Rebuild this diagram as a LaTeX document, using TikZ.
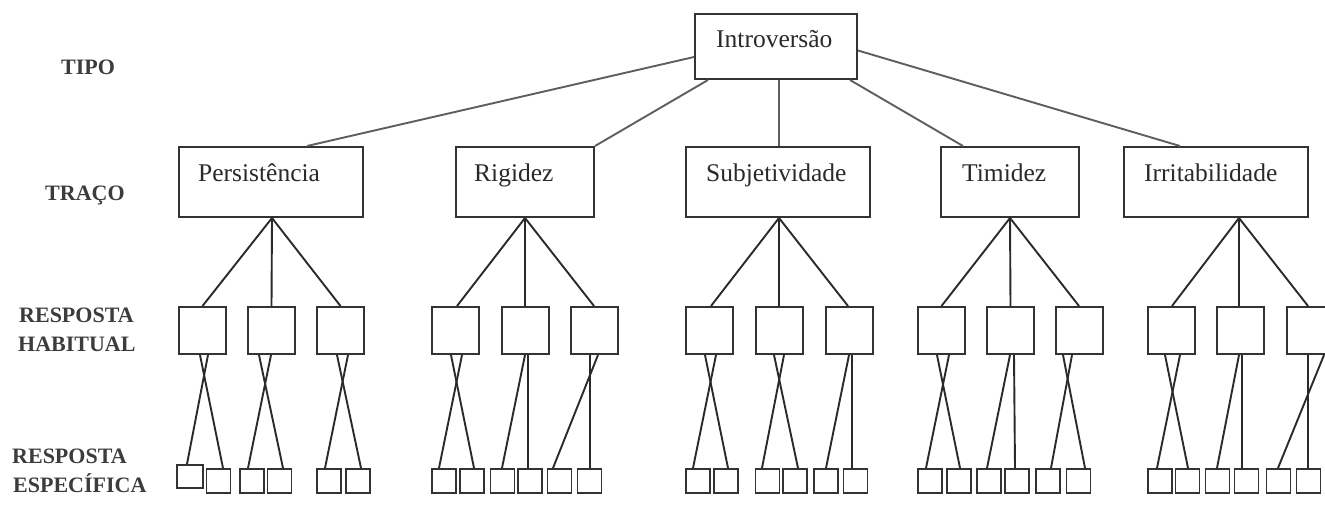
\documentclass[tikz,border=0pt]{standalone}
\usepackage{fontspec}
\setmainfont{Liberation Serif}
\definecolor{boxc}{HTML}{333333}
\definecolor{topc}{HTML}{5E5E5E}
\definecolor{lblc}{HTML}{3C3C3C}
\definecolor{txtc}{HTML}{2A2A2A}
\newcommand\lkHS[4]{\draw[conn] ([xshift=#2pt]#1.south) -- ([xshift=#4pt]#3.north);}
\begin{document}
\begin{tikzpicture}[x=1pt,y=-1pt,
  tbox/.style={draw=boxc, line width=2pt, inner sep=0pt, minimum height=70pt},
  hbox/.style={draw=boxc, line width=2pt, inner sep=0pt, minimum width=47pt, minimum height=47pt},
  sbox/.style={draw=boxc, line width=1.9pt, inner sep=0pt, minimum width=24pt, minimum height=24pt},
  txt/.style={inner sep=0pt, anchor=base west, text=txtc, font=\fontsize{25.5}{30}\selectfont},
  lbl/.style={inner sep=0pt, anchor=base west, text=lblc, font=\fontsize{22}{26}\selectfont\bfseries},
  conn/.style={draw=txtc, line width=1.9pt},
  topconn/.style={draw=topc, line width=1.9pt}]
\useasboundingbox (0,0) rectangle (1325,516);
\fill[white] (0,0) rectangle (1325,516);

% level labels
\node[lbl] (lTipo) at (61,75) {TIPO};
\node[lbl] (lTraco) at (45,200) {TRAÇO};
\node[lbl] (lRH1) at (19,322) {RESPOSTA};
\node[lbl] (lRH2) at (18,351) {HABITUAL};
\node[lbl] (lRE1) at (12,463) {RESPOSTA};
\node[lbl] (lRE2) at (13,492) {ESPECÍFICA};

% type
\node[tbox, minimum width=162pt, minimum height=65pt] (Intro) at (776,46.5) {};
\node[txt] (IntroTx) at (716,48) {Introversão};

% traits
\node[tbox, minimum width=184pt] (tP) at (271,182) {};
\node[txt] (tPx) at (198,182) {Persistência};
\node[tbox, minimum width=138pt] (tR) at (525,182) {};
\node[txt] (tRx) at (474,182) {Rigidez};
\node[tbox, minimum width=184pt] (tS) at (778,182) {};
\node[txt] (tSx) at (706,182) {Subjetividade};
\node[tbox, minimum width=138pt] (tT) at (1010,182) {};
\node[txt] (tTx) at (962,182) {Timidez};
\node[tbox, minimum width=184pt] (tI) at (1216,182) {};
\node[txt] (tIx) at (1144,182) {Irritabilidade};

% type -> traits
\draw[topconn] ([yshift=-10.5pt]Intro.west) -- ([xshift=36pt]tP.north);
\draw[topconn] ([xshift=-68pt]Intro.south) -- (tR.north east);
\draw[topconn] ([xshift=3pt]Intro.south) -- ([xshift=1pt]tS.north);
\draw[topconn] ([xshift=74pt]Intro.south) -- ([xshift=-47pt]tT.north);
\draw[topconn] ([yshift=-4pt]Intro.east) -- ([xshift=-36pt]tI.north);

% habitual responses
\node[hbox] (hP1) at (202.5,330.5) {};
\node[hbox] (hP2) at (271.5,330.5) {};
\node[hbox] (hP3) at (340.5,330.5) {};
\node[hbox] (hR1) at (455.5,330.5) {};
\node[hbox] (hR2) at (525,330.5) {};
\node[hbox] (hR3) at (594.5,330.5) {};
\node[hbox] (hS1) at (709.5,330.5) {};
\node[hbox] (hS2) at (779.5,330.5) {};
\node[hbox] (hS3) at (849,330.5) {};
\node[hbox] (hT1) at (941.5,330.5) {};
\node[hbox] (hT2) at (1010.5,330.5) {};
\node[hbox] (hT3) at (1079,330.5) {};
\node[hbox] (hI1) at (1171,330.5) {};
\node[hbox] (hI2) at (1240,330.5) {};
\node[hbox] (hI3) at (1310.5,330.5) {};

% traits -> habitual
\draw[conn] ([xshift=1pt]tP.south) -- (hP1.north);
\draw[conn] ([xshift=1pt]tP.south) -- (hP2.north);
\draw[conn] ([xshift=1pt]tP.south) -- (hP3.north);
\draw[conn] (tR.south) -- ([xshift=1.5pt]hR1.north);
\draw[conn] (tR.south) -- (hR2.north);
\draw[conn] (tR.south) -- ([xshift=-0.5pt]hR3.north);
\draw[conn] ([xshift=1pt]tS.south) -- ([xshift=1.5pt]hS1.north);
\draw[conn] ([xshift=1pt]tS.south) -- ([xshift=-0.5pt]hS2.north);
\draw[conn] ([xshift=1pt]tS.south) -- ([xshift=-1pt]hS3.north);
\draw[conn] (tT.south) -- (hT1.north);
\draw[conn] (tT.south) -- (hT2.north);
\draw[conn] (tT.south) -- (hT3.north);
\draw[conn] ([xshift=23pt]tI.south) -- ([xshift=1pt]hI1.north);
\draw[conn] ([xshift=23pt]tI.south) -- ([xshift=-1pt]hI2.north);
\draw[conn] ([xshift=23pt]tI.south) -- ([xshift=-2.5pt]hI3.north);

% specific responses
\node[sbox, minimum width=26pt, minimum height=23pt] (sP1) at (190,476.5) {};
\node[sbox] (sP2) at (218.5,481) {};
\node[sbox] (sP3) at (252,481) {};
\node[sbox] (sP4) at (279.5,481) {};
\node[sbox] (sP5) at (329,481) {};
\node[sbox] (sP6) at (358,481) {};
\node[sbox] (sR1) at (444,481) {};
\node[sbox] (sR2) at (472,481) {};
\node[sbox] (sR3) at (502.5,481) {};
\node[sbox] (sR4) at (530,481) {};
\node[sbox] (sR5) at (559.5,481) {};
\node[sbox] (sR6) at (589.5,481) {};
\node[sbox] (sS1) at (698,481) {};
\node[sbox] (sS2) at (726,481) {};
\node[sbox] (sS3) at (767.5,481) {};
\node[sbox] (sS4) at (795,481) {};
\node[sbox] (sS5) at (826,481) {};
\node[sbox] (sS6) at (855.5,481) {};
\node[sbox] (sT1) at (930,481) {};
\node[sbox] (sT2) at (959,481) {};
\node[sbox] (sT3) at (989,481) {};
\node[sbox] (sT4) at (1017,481) {};
\node[sbox] (sT5) at (1048,481) {};
\node[sbox] (sT6) at (1078.5,481) {};
\node[sbox] (sI1) at (1160,481) {};
\node[sbox] (sI2) at (1187.5,481) {};
\node[sbox] (sI3) at (1217.5,481) {};
\node[sbox] (sI4) at (1246.5,481) {};
\node[sbox] (sI5) at (1278.5,481) {};
\node[sbox] (sI6) at (1308.5,481) {};

% habitual -> specific
\lkHS{hP1}{-2.5}{sP2}{4.5}
\lkHS{hP1}{5.5}{sP1}{-3}
\lkHS{hP2}{-12.5}{sP4}{3.5}
\lkHS{hP2}{-0.5}{sP3}{-4}
\lkHS{hP3}{-3.5}{sP6}{3}
\lkHS{hP3}{7.5}{sP5}{-4}
\lkHS{hR1}{-4.5}{sR2}{2}
\lkHS{hR1}{6.5}{sR1}{-5}
\lkHS{hR2}{0}{sR3}{-0.5}
\lkHS{hR2}{3}{sR4}{-2}
\lkHS{hR3}{3.5}{sR5}{-6.5}
\lkHS{hR3}{-4.5}{sR6}{0.5}
\lkHS{hS1}{-4.5}{sS2}{2}
\lkHS{hS1}{6.5}{sS1}{-5}
\lkHS{hS2}{-5.5}{sS4}{3}
\lkHS{hS2}{4.5}{sS3}{-5.5}
\lkHS{hS3}{0}{sS5}{0}
\lkHS{hS3}{3}{sS6}{-3.5}
\lkHS{hT1}{-4.5}{sT2}{1}
\lkHS{hT1}{7.5}{sT1}{-4}
\lkHS{hT2}{-0.5}{sT3}{-2}
\lkHS{hT2}{3.5}{sT4}{-2}
\lkHS{hT3}{-16}{sT6}{6.5}
\lkHS{hT3}{-7}{sT5}{3}
\lkHS{hI1}{-6}{sI2}{0.5}
\lkHS{hI1}{9}{sI1}{-3}
\lkHS{hI2}{-1}{sI3}{-0.5}
\lkHS{hI2}{2}{sI4}{-4.5}
\lkHS{hI3}{13.5}{sI5}{-0.5}
\lkHS{hI3}{-2.5}{sI6}{-0.5}
\end{tikzpicture}
\end{document}
